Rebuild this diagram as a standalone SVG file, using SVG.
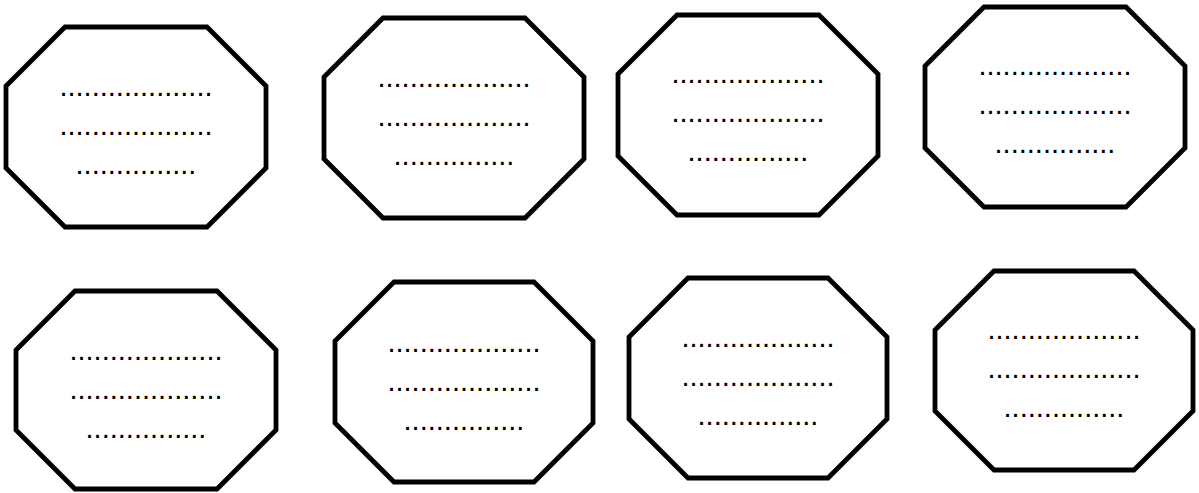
<svg xmlns="http://www.w3.org/2000/svg" width="1199" height="493" viewBox="0 0 1199 493">
<style>
.oct{fill:#fff;stroke:#000;stroke-width:4.8;stroke-linejoin:miter}
.t{font-family:"Liberation Sans",Arial,sans-serif;font-size:29px;fill:#000;text-anchor:middle}
</style>
<rect width="1199" height="493" fill="#fff"/>
<g id="node1">
<polygon class="oct" points="65,27 207,27 266,86 266,168 207,227 65,227 6,168 6,86"/>
<text class="t" x="136" y="95.5">...................</text>
<text class="t" x="136" y="134.8">...................</text>
<text class="t" x="136" y="173.8">...............</text>
</g>
<g id="node2">
<polygon class="oct" points="383,18 525,18 584,77 584,159 525,218 383,218 324,159 324,77"/>
<text class="t" x="454" y="86.5">...................</text>
<text class="t" x="454" y="125.8">...................</text>
<text class="t" x="454" y="164.8">...............</text>
</g>
<g id="node3">
<polygon class="oct" points="677,15 819,15 878,74 878,156 819,215 677,215 618,156 618,74"/>
<text class="t" x="748" y="83">...................</text>
<text class="t" x="748" y="122.3">...................</text>
<text class="t" x="748" y="161.3">...............</text>
</g>
<g id="node4">
<polygon class="oct" points="984,7 1126,7 1185,66 1185,148 1126,207 984,207 925,148 925,66"/>
<text class="t" x="1055" y="75">...................</text>
<text class="t" x="1055" y="114.3">...................</text>
<text class="t" x="1055" y="153.3">...............</text>
</g>
<g id="node5">
<polygon class="oct" points="75,291 217,291 276,350 276,430 217,489 75,489 16,430 16,350"/>
<text class="t" x="146" y="360">...................</text>
<text class="t" x="146" y="398.5">...................</text>
<text class="t" x="146" y="437.5">...............</text>
</g>
<g id="node6">
<polygon class="oct" points="394,282 534,282 593,341 593,423 534,482 394,482 335,423 335,341"/>
<text class="t" x="464" y="352">...................</text>
<text class="t" x="464" y="390.5">...................</text>
<text class="t" x="464" y="429.5">...............</text>
</g>
<g id="node7">
<polygon class="oct" points="688,278 828,278 887,337 887,419 828,478 688,478 629,419 629,337"/>
<text class="t" x="758" y="347.3">...................</text>
<text class="t" x="758" y="386.3">...................</text>
<text class="t" x="758" y="425">...............</text>
</g>
<g id="node8">
<polygon class="oct" points="994,271 1134,271 1193,330 1193,411 1134,470 994,470 935,411 935,330"/>
<text class="t" x="1064" y="338.7">...................</text>
<text class="t" x="1064" y="378">...................</text>
<text class="t" x="1064" y="417">...............</text>
</g>
<g id="connectors"></g>
</svg>
